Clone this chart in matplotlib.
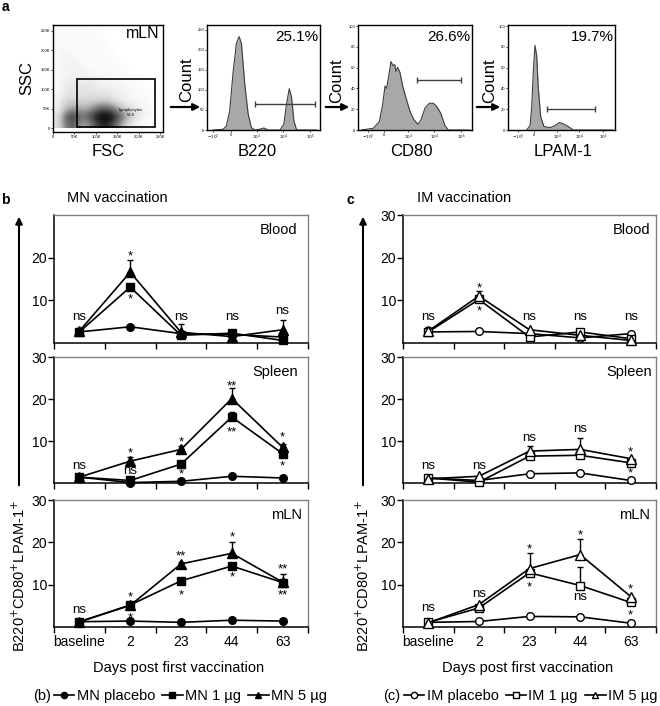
import numpy as np
import matplotlib
matplotlib.use('Agg')
import matplotlib.pyplot as plt
from matplotlib.lines import Line2D
from matplotlib.patches import Rectangle, FancyArrowPatch
from matplotlib.colors import PowerNorm

plt.rcParams['font.family'] = ['Liberation Sans', 'DejaVu Sans']

W, H = 660, 706

# ---- panel a: gating ----
# SSC (rows, 250K at top -> 10K at bottom) vs FSC (cols 10K -> 250K), relative event density
ssc_fsc_density = [
    [1, 1, 1, 1, 1, 0, 0, 0, 0, 0, 0, 0, 0],
    [1, 1, 1, 1, 1, 1, 0, 0, 0, 0, 0, 0, 0],
    [1, 1, 1, 1, 1, 1, 1, 0, 0, 0, 0, 0, 0],
    [1, 2, 1, 1, 1, 1, 1, 0, 0, 0, 0, 0, 0],
    [1, 2, 2, 1, 1, 1, 1, 1, 0, 0, 0, 0, 0],
    [1, 2, 2, 2, 1, 1, 1, 1, 1, 0, 0, 0, 0],
    [1, 2, 2, 2, 2, 2, 1, 1, 1, 1, 0, 0, 0],
    [1, 3, 3, 3, 3, 2, 2, 2, 1, 1, 1, 0, 0],
    [1, 3, 3, 3, 3, 3, 3, 2, 2, 1, 1, 1, 0],
    [2, 4, 4, 4, 4, 4, 4, 3, 2, 2, 1, 1, 0],
    [2, 5, 6, 5, 6, 8, 8, 6, 4, 3, 2, 1, 0],
    [3, 8, 9, 7, 9, 10, 10, 9, 6, 4, 2, 1, 0],
    [3, 7, 8, 5, 7, 9, 9, 7, 4, 2, 1, 0, 0],
]
lymph_gate = [56, 2, 237, 126]          # FSC lo, SSC lo, FSC hi, SSC hi (K)
scale_ticks = [0, 50, 100, 150, 200, 250]
scale_labels = ['0', '50K', '100K', '150K', '200K', '250K']

b220_pos = [5.3, 14.2, 17.1, 20.1, 23.0, 26.0, 28.4, 30.5, 33.4, 36.4, 39.3, 42.3,
            46.7, 50.3, 54.1, 64.5, 68.0, 70.4, 72.8, 74.8, 76.9, 79.3, 97]
b220_count = [0, 1.7, 10, 48, 141, 216, 233, 216, 115, 40, 6, 0,
              2, 5, 0, 0, 14, 65, 103, 82, 23, 0, 0]
b220_gate = [42.5, 95.6, 66]
cd80_pos = [3.2, 13.4, 18.7, 21.6, 23.7, 25.1, 27.2, 28.9, 30.7, 32.2, 33.3, 34.8,
            36.8, 39.2, 42.1, 45.6, 49.1, 52.6, 55.3, 58.8, 62.6, 66.1, 69.0, 72.5,
            76.3, 79.2, 98]
cd80_count = [0, 1.6, 8.1, 24.4, 42.3, 40, 53.7, 65.8, 61.9, 62.9, 56.4, 60.3,
              55.4, 42.3, 30.9, 17.9, 9.8, 5.5, 9.8, 21.2, 25.7, 25.7, 22.8, 16.3,
              4.2, 0, 0]
cd80_gate = [51.8, 90.4, 48]
lpam_pos = [17.4, 20.6, 22.1, 23.7, 25.2, 26.8, 28.3, 30.5, 33.6, 39.3, 43.9, 47.9,
            51.7, 56.4, 61.1, 98]
lpam_count = [0, 4.2, 21.2, 57, 81.4, 71.7, 40.7, 13, 3.3, 2.3, 4.2, 7.2,
              5.9, 3.3, 0, 0]
lpam_gate = [36.4, 81.3, 20.5]
log_labels = ['$-10^2$', '0', '$10^3$', '$10^4$', '$10^5$']

# ---- panels b / c: B220+CD80+LPAM-1+ cells over time ----
days = ['baseline', '2', '23', '44', '63']

mn_blood_placebo = [2.6, 3.8, 2.2, 2.0, 1.4]
mn_blood_1ug = [2.6, 13.1, 1.8, 2.3, 0.6]
mn_blood_5ug = [2.8, 16.6, 2.5, 1.5, 3.1]
mn_blood_1ug_err = [1.0, 0, 0, 0, 0]
mn_blood_5ug_err = [0, 2.9, 2.0, 0, 2.4]

mn_spleen_placebo = [1.4, 0.1, 0.4, 1.6, 1.2]
mn_spleen_1ug = [1.4, 0.6, 4.5, 15.7, 7.0]
mn_spleen_5ug = [1.4, 5.2, 8.0, 20.1, 8.5]
mn_spleen_1ug_err = [0, 0, 0, 1.3, 1.0]
mn_spleen_5ug_err = [0, 0.9, 0.9, 2.5, 0.9]

mn_mln_placebo = [1.25, 1.4, 1.1, 1.6, 1.4]
mn_mln_1ug = [1.25, 5.2, 10.9, 14.4, 10.5]
mn_mln_5ug = [1.2, 5.1, 14.9, 17.4, 10.6]
mn_mln_1ug_err = [0, 0, 0, 0, 2.1]
mn_mln_5ug_err = [0, 0, 0.4, 2.6, 0]

im_blood_placebo = [2.6, 2.7, 2.2, 1.2, 2.2]
im_blood_1ug = [2.6, 10.2, 1.4, 2.6, 1.0]
im_blood_5ug = [2.8, 11.0, 3.1, 1.8, 0.6]
im_blood_1ug_err = [1.2, 0, 0, 0, 0]
im_blood_5ug_err = [0, 1.3, 0, 0, 0]

im_spleen_placebo = [1.2, 0.6, 2.2, 2.4, 0.6]
im_spleen_1ug = [1.2, 0.2, 6.4, 6.6, 4.8]
im_spleen_5ug = [1.0, 1.6, 7.6, 8.0, 5.8]
im_spleen_1ug_err = [0, 0, 0, 0, 0]
im_spleen_5ug_err = [0, 0, 1.2, 2.6, 0]

im_mln_placebo = [1.1, 1.3, 2.5, 2.4, 0.9]
im_mln_1ug = [1.1, 4.5, 12.8, 9.8, 5.8]
im_mln_5ug = [1.0, 5.3, 13.8, 17.1, 7.2]
im_mln_1ug_err = [0, 0, 0, 4.3, 0]
im_mln_5ug_err = [0, 0, 3.7, 3.8, 0]

# significance marks: (day index, height, text)
mn_blood_sig = [(0, 6.1, 'ns'), (1, 21.3, '*'), (1, 11.2, '*'), (2, 6.1, 'ns'),
                (3, 6.1, 'ns'), (4, 7.4, 'ns')]
mn_spleen_sig = [(0, 4.0, 'ns'), (1, 8.0, '*'), (1, 2.9, 'ns'), (2, 10.6, '*'),
                 (2, 3.0, '*'), (3, 24.0, '**'), (3, 12.9, '**'), (4, 11.8, '*'),
                 (4, 4.9, '*')]
mn_mln_sig = [(0, 4.1, 'ns'), (1, 7.9, '*'), (1, 3.0, '*'), (2, 17.7, '**'),
              (2, 8.3, '*'), (3, 22.0, '*'), (3, 12.6, '*'), (4, 14.5, '**'),
              (4, 8.5, '**')]
im_blood_sig = [(0, 6.1, 'ns'), (1, 13.75, '*'), (1, 8.4, '*'), (2, 6.1, 'ns'),
                (3, 6.1, 'ns'), (4, 6.1, 'ns')]
im_spleen_sig = [(0, 4.0, 'ns'), (1, 4.0, 'ns'), (2, 10.8, 'ns'), (3, 12.8, 'ns'),
                 (4, 8.2, '*'), (4, 3.2, '*')]
im_mln_sig = [(0, 4.5, 'ns'), (1, 7.8, 'ns'), (2, 19.2, '*'), (2, 10.2, '*'),
              (3, 22.6, '*'), (3, 7.2, 'ns'), (4, 9.8, '*'), (4, 3.7, '*')]


def px_axes(fig, x0, y0, x1, y1):
    return fig.add_axes([x0 / W, 1 - y1 / H, (x1 - x0) / W, (y1 - y0) / H])


def ftext(fig, x, y, s, **kw):
    return fig.text(x / W, 1 - y / H, s, **kw)


def flow_ticks(ax):
    ax.tick_params(direction='out', length=1.5, width=0.5, labelsize=3, pad=0.5)
    for sp in ax.spines.values():
        sp.set_linewidth(1.0)


def flow_hist(ax, pos, count, gate, ymax, yticks, tick_pos, pct):
    ax.fill_between(pos, count, color='#a8a8a8', lw=0)
    ax.plot(pos, count, color='#3c3c3c', lw=0.8)
    lo, hi, lvl = gate
    ax.errorbar([(lo + hi) / 2], [lvl], xerr=[(hi - lo) / 2], fmt='none',
                ecolor='#404040', elinewidth=1, capsize=2, capthick=1)
    ax.set_xlim(0, 100)
    ax.set_ylim(0, ymax)
    ax.set_xticks(tick_pos)
    ax.set_xticklabels(log_labels)
    ax.set_yticks(yticks)
    flow_ticks(ax)
    ax.text(0.985, 0.885, pct, transform=ax.transAxes, ha='right', va='center',
            fontsize=11)


def time_panel(ax, series, errs, sig, tissue, tissue_x, open_marker, yticks,
               show_days):
    x = np.arange(len(days))
    for vals, err, m, ms in zip(series, errs, ['o', 's', '^'], [5.5, 5.5, 6.5]):
        vals = np.array(vals, dtype=float)
        err = np.array(err, dtype=float)
        k = err > 0
        if k.any():
            ax.errorbar(x[k], vals[k], yerr=[np.zeros(k.sum()), err[k]], fmt='none',
                        ecolor='k', elinewidth=1, capsize=2.5, capthick=1,
                        zorder=2, clip_on=False)
        ax.plot(x, vals, color='k', lw=1.2, marker=m, ms=ms,
                mfc='white' if open_marker else 'k', mec='k', mew=1,
                zorder=3, clip_on=False)
    for i, y, s in sig:
        dy = -2.9 if '*' in s else 0
        ax.annotate(s, (i, y), xytext=(0, dy), textcoords='offset points',
                    ha='center', va='center', fontsize=9.5)
    ax.set_xlim(-0.5, 4.5)
    ax.set_ylim(0, 30)
    ax.set_xticks(np.arange(-0.5, 5, 1))
    ax.set_xticklabels([])
    ax.set_xticks(x, minor=True)
    ax.set_xticklabels(days if show_days else [''] * 5, minor=True)
    ax.tick_params(which='major', direction='out', length=4, width=1,
                   labelsize=10, pad=1)
    ax.tick_params(axis='x', which='minor', length=0, pad=6, labelsize=10)
    ax.set_yticks(yticks)
    for side in ['top', 'right']:
        ax.spines[side].set_color('0.5')
        ax.spines[side].set_linewidth(1.0)
    for side in ['left', 'bottom']:
        ax.spines[side].set_linewidth(1.1)
    ax.text(tissue_x, 0.88, tissue, transform=ax.transAxes, ha='right',
            va='center', fontsize=10.5)


fig = plt.figure(figsize=(W / 100, H / 100), dpi=100)

# ---------- a ----------
ftext(fig, 5, 7, 'a', fontsize=10, fontweight='bold', ha='center', va='center')

ax = px_axes(fig, 53, 25, 163, 132)
ax.imshow(np.array(ssc_fsc_density), cmap='Greys', norm=PowerNorm(1.4, 0, 10),
          extent=[0, 260, 0, 260], interpolation='bicubic', aspect='auto')
g = lymph_gate
ax.add_patch(Rectangle((g[0], g[1]), g[2] - g[0], g[3] - g[1], fill=False,
                       lw=1.2, ec='k'))
ax.text(182, 40, 'Lymphocytes\n52.6', fontsize=3, ha='center', va='center',
        linespacing=1.6)
ax.set_xlim(0, 256)
ax.set_ylim(-10, 265)
ax.set_xticks(scale_ticks)
ax.set_xticklabels(scale_labels)
ax.set_yticks(scale_ticks)
ax.set_yticklabels(scale_labels)
flow_ticks(ax)
ax.text(0.97, 0.925, 'mLN', transform=ax.transAxes, ha='right', va='center',
        fontsize=11.5)
ftext(fig, 27, 78, 'SSC', rotation=90, ha='center', va='center', fontsize=12)
ftext(fig, 108, 151, 'FSC', ha='center', va='center', fontsize=12)

ax = px_axes(fig, 207, 25, 320, 130)
flow_hist(ax, b220_pos, b220_count, b220_gate, 262, [0, 50, 100, 150, 200, 250],
          [5.3, 21.2, 44.2, 67.3, 91.2], '25.1%')
ftext(fig, 187, 80, 'Count', rotation=90, ha='center', va='center', fontsize=12)
ftext(fig, 257, 151, 'B220', ha='center', va='center', fontsize=12)

ax = px_axes(fig, 358, 25, 472, 130)
flow_hist(ax, cd80_pos, cd80_count, cd80_gate, 101, [0, 20, 40, 60, 80, 100],
          [8.8, 22.8, 43.9, 66.7, 90.4], '26.6%')
ftext(fig, 337, 81, 'Count', rotation=90, ha='center', va='center', fontsize=12)
ftext(fig, 411, 151, 'CD80', ha='center', va='center', fontsize=12)

ax = px_axes(fig, 508, 25, 615, 130)
flow_hist(ax, lpam_pos, lpam_count, lpam_gate, 101, [0, 20, 40, 60, 80, 100],
          [9.3, 24.3, 45.8, 66.4, 88.8], '19.7%')
ftext(fig, 490, 81, 'Count', rotation=90, ha='center', va='center', fontsize=12)
ftext(fig, 563, 151, 'LPAM-1', ha='center', va='center', fontsize=12)

for x0, x1 in [(168, 203), (323, 352), (474, 503)]:
    fig.add_artist(FancyArrowPatch((x0 / W, 1 - 107 / H), (x1 / W, 1 - 107 / H),
                                   transform=fig.transFigure, arrowstyle='-|>',
                                   mutation_scale=10, lw=1.6, color='k'))

# ---------- b / c ----------
rows = [(215, 343), (357, 483), (500, 627)]
groups = [
    dict(tag='b', title='MN vaccination', x0=54, x1=308, tx=5, ttx=67, open_m=False,
         arrow_x=19, lab='(b)', leg_x=33,
         names=['MN placebo', 'MN 1 µg', 'MN 5 µg'],
         panels=[([mn_blood_placebo, mn_blood_1ug, mn_blood_5ug],
                  [[0] * 5, mn_blood_1ug_err, mn_blood_5ug_err], mn_blood_sig,
                  'Blood', 0.96, [10, 20]),
                 ([mn_spleen_placebo, mn_spleen_1ug, mn_spleen_5ug],
                  [[0] * 5, mn_spleen_1ug_err, mn_spleen_5ug_err], mn_spleen_sig,
                  'Spleen', 0.96, [10, 20, 30]),
                 ([mn_mln_placebo, mn_mln_1ug, mn_mln_5ug],
                  [[0] * 5, mn_mln_1ug_err, mn_mln_5ug_err], mn_mln_sig,
                  'mLN', 0.976, [10, 20, 30])]),
    dict(tag='c', title='IM vaccination', x0=403, x1=656, tx=350, ttx=417, open_m=True,
         arrow_x=363, lab='(c)', leg_x=383,
         names=['IM placebo', 'IM 1 µg', 'IM 5 µg'],
         panels=[([im_blood_placebo, im_blood_1ug, im_blood_5ug],
                  [[0] * 5, im_blood_1ug_err, im_blood_5ug_err], im_blood_sig,
                  'Blood', 0.976, [10, 20, 30]),
                 ([im_spleen_placebo, im_spleen_1ug, im_spleen_5ug],
                  [[0] * 5, im_spleen_1ug_err, im_spleen_5ug_err], im_spleen_sig,
                  'Spleen', 0.984, [10, 20, 30]),
                 ([im_mln_placebo, im_mln_1ug, im_mln_5ug],
                  [[0] * 5, im_mln_1ug_err, im_mln_5ug_err], im_mln_sig,
                  'mLN', 0.976, [10, 20, 30])]),
]

for grp in groups:
    ftext(fig, grp['tx'], 200, grp['tag'], fontsize=10, fontweight='bold',
          ha='center', va='center')
    ftext(fig, grp['ttx'], 198, grp['title'], fontsize=10.5, ha='left', va='center')
    for (y0, y1), (series, errs, sig, tissue, tx, yt) in zip(rows, grp['panels']):
        ax = px_axes(fig, grp['x0'], y0, grp['x1'], y1)
        time_panel(ax, series, errs, sig, tissue, tx, grp['open_m'], yt,
                   tissue == 'mLN')
    xa = grp['arrow_x']
    fig.add_artist(FancyArrowPatch((xa / W, 1 - 488 / H), (xa / W, 1 - 214 / H),
                                   transform=fig.transFigure, arrowstyle='-|>',
                                   mutation_scale=10, lw=1.5, color='k'))
    ftext(fig, xa, 576, 'B220$^{+}$CD80$^{+}$LPAM-1$^{+}$', rotation=90,
          ha='center', va='center', fontsize=10.5)
    ftext(fig, (grp['x0'] + grp['x1']) / 2 - 2, 668, 'Days post first vaccination',
          ha='center', va='center', fontsize=10.5)
    # legend row
    ftext(fig, grp['leg_x'], 696, grp['lab'], ha='left', va='center', fontsize=10.5)
    handles = [Line2D([], [], color='k', lw=1.2, marker=m, ms=ms,
                      mfc='white' if grp['open_m'] else 'k', mec='k', mew=1)
               for m, ms in zip(['o', 's', '^'], [4.5, 4.5, 5])]
    fig.legend(handles, grp['names'], loc='center left',
               bbox_to_anchor=((grp['leg_x'] + 21) / W, 1 - 696 / H), ncol=3,
               frameon=False, fontsize=10.5, handlelength=1.4, handletextpad=0.15,
               columnspacing=0.5, borderpad=0, borderaxespad=0)

fig.savefig('out.png', dpi=100)
